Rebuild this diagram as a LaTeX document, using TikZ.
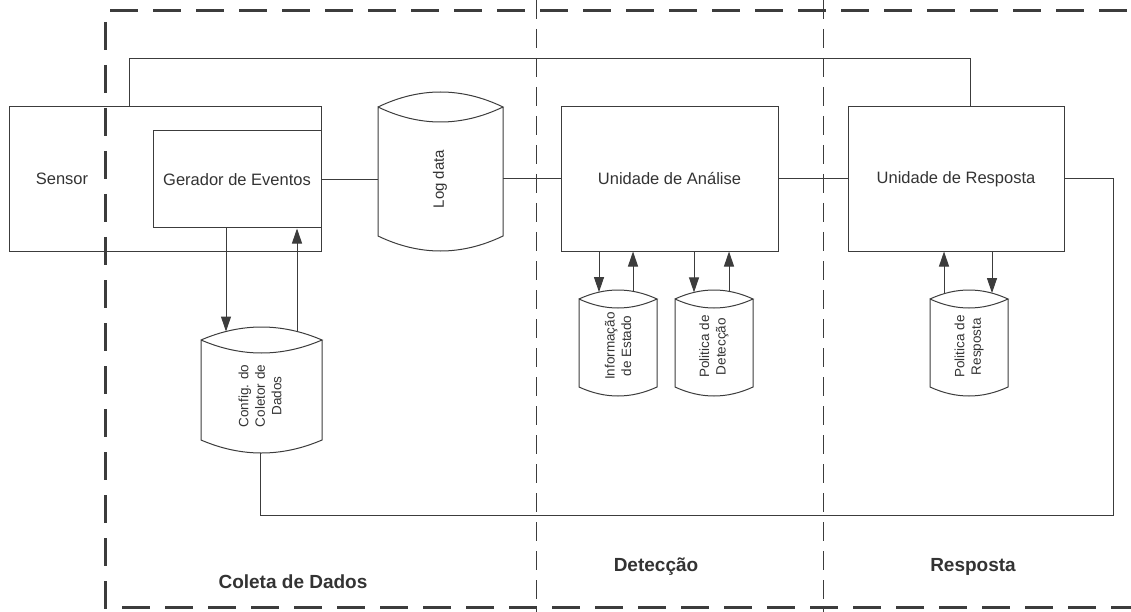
\documentclass[tikz,border=0pt]{standalone}
\usepackage{fontspec}
\setmainfont{Liberation Sans}
\usetikzlibrary{arrows.meta,calc}
\definecolor{ln}{HTML}{3C3C3C}
\definecolor{tx}{HTML}{333333}
\tikzset{
 line/.style={draw=ln, line width=1pt},
 box/.style={line, rectangle, inner sep=0pt, text=tx, font=\fontsize{16.5}{19}\selectfont},
 cylbody/.style={rectangle, inner sep=0pt},
 arr/.style={line, -{Triangle[length=15pt,width=10pt]}},
 lbl/.style={text=tx, font=\fontsize{16.5}{19}\selectfont, inner sep=0pt},
 rlbl/.style={text=tx, rotate=90, align=center, inner sep=0pt, font=\fontsize{13.5}{16.5}\selectfont},
 blbl/.style={text=tx, inner sep=0pt, font=\fontsize{19}{22}\selectfont\bfseries},
 sep/.style={draw=ln, line width=0.8pt, dash pattern=on 19pt off 10pt},
 outer/.style={draw=ln, line width=3pt, dash pattern=on 28pt off 15pt},
}
\newcommand\mycyl[6]{%
 \pgfmathsetmacro\cyW{#4-#2}%
 \pgfmathsetmacro\cyH{#5-#3}%
 \pgfmathsetmacro\cyX{(#2+#4)/2}%
 \pgfmathsetmacro\cyY{(#3+#5)/2}%
 \pgfmathsetmacro\cyA{#2+(#4-#2)/3}%
 \pgfmathsetmacro\cyB{#2+2*(#4-#2)/3}%
 \pgfmathsetmacro\cyTU{#3-4*#6/3}%
 \pgfmathsetmacro\cyTD{#3+4*#6/3}%
 \pgfmathsetmacro\cyBD{#5+4*#6/3}%
 \node[cylbody, minimum width=\cyW pt, minimum height=\cyH pt] (#1) at (\cyX,\cyY) {};
 \coordinate (#1-bot) at (\cyX,#5+#6);
 \draw[line] (#2,#3) .. controls (\cyA,\cyTU) and (\cyB,\cyTU) .. (#4,#3)
   .. controls (\cyB,\cyTD) and (\cyA,\cyTD) .. (#2,#3) -- (#2,#5)
   .. controls (\cyA,\cyBD) and (\cyB,\cyBD) .. (#4,#5) -- (#4,#3);
}
\begin{document}
\begin{tikzpicture}[x=1pt,y=-1pt]
\useasboundingbox (0,0) rectangle (1131,612);
% region separators
\draw[sep] (536,0) -- (536,612);
\draw[sep] (823,0) -- (823,612);
\draw[outer] (110,11) -- (1131,11);
\draw[outer] (105,22) -- (105,607) -- (1131,607);

% boxes
\node[box, minimum width=312pt, minimum height=144pt] (s) at (165,179) {};
\node[lbl] (slbl) at (62,179) {Sensor};
\node[box, minimum width=168pt, minimum height=97pt] (g) at (237,179.5) {Gerador de Eventos};
\node[box, minimum width=217pt, minimum height=144pt] (ana) at (669.5,179) {Unidade de Análise};
\node[box, minimum width=216pt, minimum height=144pt] (resp) at (956,179) {Unidade de Resposta};

% cylinders
\mycyl{log}{378}{107}{503}{236}{15}
\mycyl{cfg}{201}{340}{322}{440}{13}
\mycyl{info}{579}{299}{657}{387}{9}
\mycyl{pdet}{675}{299}{753}{387}{9}
\mycyl{presp}{930}{299}{1008}{387}{9}

\node[rlbl, font=\fontsize{15}{18}\selectfont] (loglbl) at (440,179) {Log data};
\node[rlbl] (cfglbl) at (260,396) {Config. do\\Coletor de\\Dados};
\node[rlbl] (infolbl) at (618,346) {Informação\\de Estado};
\node[rlbl] (pdetlbl) at (714,346.5) {Politica de\\Detecção};
\node[rlbl] (presplbl) at (969,346.5) {Politica de\\Resposta};

% connectors
\draw[line] (g.east) -- (g.east -| log.west);
\draw[line] (ana.west -| log.east) -- (ana.west);
\draw[line] (ana.east) -- (resp.west);
\coordinate (tl) at (129,59);
\coordinate (tr) at (970,59);
\draw[line] (tl |- s.north) -- (tl) -- (tr) -- (tr |- resp.north);
\coordinate (rr) at (1113,515);
\coordinate (bl) at (260,515);
\draw[line] (resp.east) -| (rr) -- (bl) -- (bl |- cfg-bot);

% arrows
\coordinate (c1) at (226,331.5);
\coordinate (c2) at (297,331.5);
\draw[arr] (c1 |- g.south) -- (c1);
\draw[arr] (c2) -- (c2 |- g.south);
\coordinate (i1) at (599,292.1);
\coordinate (i2) at (633,291.3);
\draw[arr] (i1 |- ana.south) -- (i1);
\draw[arr] (i2) -- (i2 |- ana.south);
\coordinate (p1) at (694,292.4);
\coordinate (p2) at (729,291.3);
\draw[arr] (p1 |- ana.south) -- (p1);
\draw[arr] (p2) -- (p2 |- ana.south);
\coordinate (r1) at (944,293.7);
\coordinate (r2) at (992,293.1);
\draw[arr] (r1) -- (r1 |- resp.south);
\draw[arr] (r2 |- resp.south) -- (r2);

% region labels
\node[blbl] (l1) at (293,582) {Coleta de Dados};
\node[blbl] (l2) at (656,567) {Detecção};
\node[blbl] (l3) at (973,567) {Resposta};
\end{tikzpicture}
\end{document}
